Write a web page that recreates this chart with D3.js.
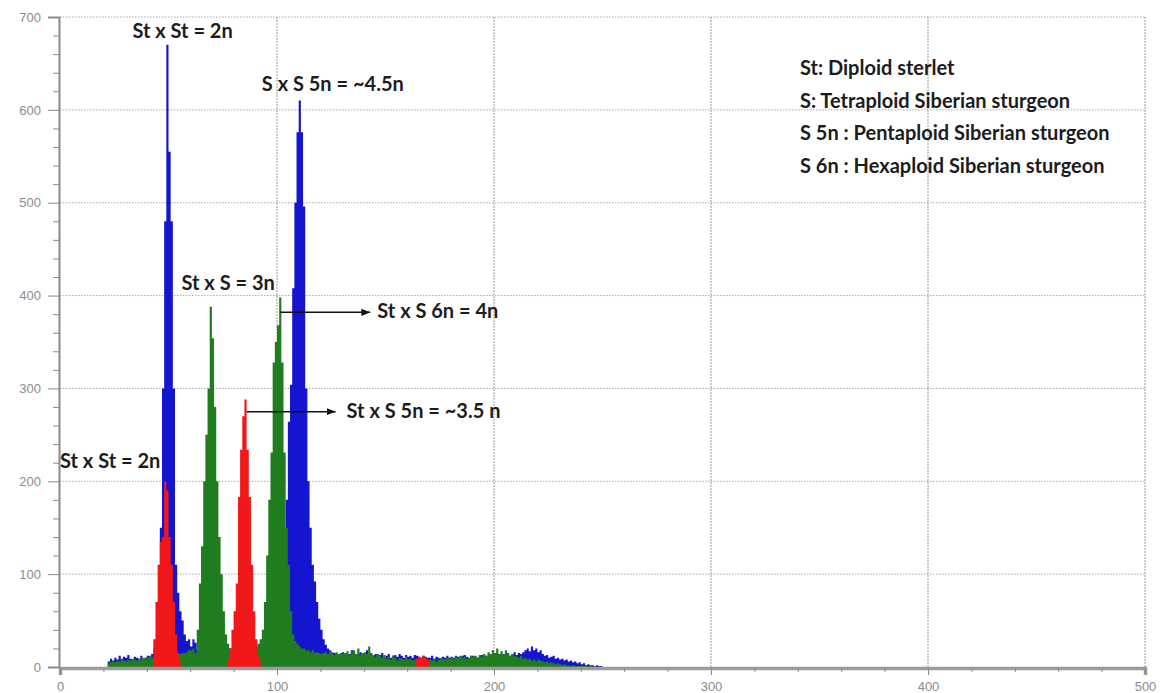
<!DOCTYPE html>
<meta charset="utf-8">
<head>
<script src="https://cdn.jsdelivr.net/npm/d3@7"></script>
<style>
  body { margin: 0; background: #fff; }
  svg { display: block; }
  .ann { font-family: Lato, "Open Sans", sans-serif; font-weight: 700; font-size: 20px; fill: #1c1c1c; }
</style>
</head>
<body>
<svg></svg>
<script>

// histogram counts per channel, channels 20..249
var firstChannel = 20;

var blueCounts = [
  0,0,6,9,7,10,8,12,9,11,
  10,13,9,8,11,10,9,12,8,10,
  12,9,14,20,30,60,150,300,480,670,
  555,480,300,110,80,60,50,35,28,30,
  22,30,26,18,15,12,12,10,10,10,
  10,10,10,10,10,12,15,18,20,20,
  18,18,15,15,15,15,15,15,18,20,
  20,20,25,30,40,50,60,70,80,90,
  90,90,95,100,180,264,304,408,500,576,
  610,576,496,300,200,150,110,92,70,52,
  40,30,24,20,18,16,15,14,12,14,
  16,13,12,14,18,15,12,14,16,12,
  14,18,12,10,12,14,11,13,15,10,
  12,14,10,12,13,11,14,12,10,13,
  11,12,10,13,12,11,10,12,11,10,
  10,12,9,11,10,9,11,10,12,10,
  11,10,12,11,10,12,13,11,10,12,
  12,11,10,12,13,11,12,10,12,11,
  12,13,11,12,14,12,13,12,14,16,
  13,15,14,16,18,20,17,22,18,20,
  16,18,14,12,13,10,11,12,9,10,
  8,9,7,8,6,7,5,6,4,5,
  3,4,2,3,2,2,1,2,1,1
];

var greenCounts = [
  0,0,4,5,6,5,7,6,8,7,
  6,8,7,9,8,7,9,8,10,9,
  10,12,10,12,10,8,8,8,8,8,
  8,8,10,10,12,14,15,15,16,18,
  18,20,15,40,90,130,200,250,300,388,
  354,280,200,140,100,60,35,25,20,18,
  20,18,16,18,16,18,20,18,20,22,
  22,25,30,40,70,120,180,231,328,350,
  368,398,328,231,150,110,60,35,28,25,
  22,20,20,18,18,16,18,15,16,15,
  14,15,16,14,17,15,13,16,14,15,
  14,15,17,13,16,18,14,20,13,15,
  16,14,22,15,13,11,14,12,10,13,
  9,11,8,12,10,7,10,9,8,11,
  8,9,7,8,6,8,7,9,8,6,
  8,7,9,6,8,10,9,8,10,9,
  10,9,11,10,12,10,11,9,10,12,
  11,12,10,13,11,14,12,16,14,18,
  15,20,14,17,13,18,15,12,14,12,
  11,10,12,9,10,8,9,7,8,6,
  8,7,6,5,6,4,5,4,3,4,
  3,2,3,2,2,1,2,1,1,1,
  1,1,1,0,1,0,1,0,0,0
];

var redCounts = [
  0,0,0,0,0,0,0,0,0,0,
  0,0,0,0,0,0,0,0,0,0,
  0,0,0,30,70,110,135,140,200,190,
  140,110,70,35,15,5,0,0,0,0,
  0,0,0,0,0,0,0,0,0,0,
  0,0,0,0,0,0,0,8,20,40,
  60,90,183,234,270,288,234,183,110,60,
  30,12,5,0,0,0,0,0,0,0,
  0,0,0,0,0,0,0,0,0,0,
  0,0,0,0,0,0,0,0,0,0,
  0,0,0,0,0,0,0,0,0,0,
  0,0,0,0,0,0,0,0,0,0,
  0,0,0,0,0,0,0,0,0,0,
  0,0,0,0,0,0,0,0,0,0,
  0,0,0,0,9,11,10,12,10,8,
  0,0,0,0,0,0,0,0,0,0,
  0,0,0,0,0,0,0,0,0,0,
  0,0,0,0,0,0,0,0,0,0,
  0,0,0,0,0,0,0,0,0,0,
  0,0,0,0,0,0,0,0,0,0,
  0,0,0,0,0,0,0,0,0,0,
  0,0,0,0,0,0,0,0,0,0,
  0,0,0,0,0,0,0,0,0,0
];

var xTicks = [0, 100, 200, 300, 400, 500];
var yTicks = [0, 100, 200, 300, 400, 500, 600, 700];

var peakLabels = [
  {text: "St x St = 2n", ch: 56.5, n: 668, anchor: "middle", dy: -9},
  {text: "S x S 5n = ~4.5n", ch: 93, n: 620, anchor: "start", dy: 0},
  {text: "St x S = 3n", ch: 77.5, n: 406, anchor: "middle", dy: 0},
  {text: "St x St = 2n", ch: 0, n: 214, anchor: "start", dy: 0}
];
var arrowLabels = [
  {text: "St x S 6n = 4n", from: 101.5, to: 143, n: 382, gap: 7},
  {text: "St x S 5n = ~3.5 n", from: 86, to: 127, n: 275, gap: 11}
];
var legendLines = [
  "St: Diploid sterlet",
  "S: Tetraploid Siberian sturgeon",
  "S 5n : Pentaploid Siberian sturgeon",
  "S 6n : Hexaploid Siberian sturgeon"
];

var width = 1161, height = 693;

var x = d3.scaleLinear().domain([0, 500]).range([60, 1145]);
var y = d3.scaleLinear().domain([0, 700]).range([667, 17]);

var svg = d3.select("svg").attr("width", width).attr("height", height);

// grid
var grid = svg.append("g");
grid.selectAll(".hg").data(yTicks.filter(function(d) { return d > 0; }))
  .enter().append("line")
  .attr("x1", x(0)).attr("x2", x(500))
  .attr("y1", function(d) { return y(d); }).attr("y2", function(d) { return y(d); })
  .style("stroke", "#a8a8a8").style("stroke-dasharray", "1.5,1.5");
grid.selectAll(".vg").data(xTicks.filter(function(d) { return d > 0; }))
  .enter().append("line")
  .attr("y1", y(0)).attr("y2", y(700))
  .attr("x1", function(d) { return x(d); }).attr("x2", function(d) { return x(d); })
  .style("stroke", "#9a9a9a").style("stroke-dasharray", "2,1");

// histograms: blue first, then green, then red on top
var series = [
  {counts: blueCounts, color: "#1515d0"},
  {counts: greenCounts, color: "#1f7d1f"},
  {counts: redCounts, color: "#f01818"}
];

var area = d3.area()
  .curve(d3.curveStepAfter)
  .x(function(d) { return x(d[0]); })
  .y0(y(0))
  .y1(function(d) { return y(d[1]); });

series.forEach(function(s) {
  var pts = s.counts.map(function(c, i) { return [firstChannel + i, c]; });
  pts.push([firstChannel + s.counts.length, 0]);
  svg.append("path")
    .datum(pts)
    .attr("d", area)
    .style("fill", s.color);
});

// axes
var xAxis = svg.append("g")
  .attr("transform", "translate(0," + (y(0) + 1) + ")")
  .call(d3.axisBottom(x).tickValues(xTicks).tickSize(7).tickPadding(7));
xAxis.select(".domain").style("stroke", "#9c9c9c").style("stroke-width", 3.5);
xAxis.selectAll(".tick line").style("stroke", "#8a8a8a");

svg.append("g")
  .attr("transform", "translate(0," + (y(0) + 1) + ")")
  .call(d3.axisBottom(x).tickValues(d3.range(20, 500, 20).filter(function(d) { return d % 100; }))
    .tickSize(4).tickFormat(""))
  .call(function(g) { g.select(".domain").remove(); })
  .selectAll("line").style("stroke", "#8a8a8a");

var yAxis = svg.append("g")
  .attr("transform", "translate(" + (x(0) - 1) + ",0)")
  .call(d3.axisLeft(y).tickValues(yTicks).tickSize(11).tickPadding(7));
yAxis.select(".domain").style("stroke", "#8a8a8a").style("stroke-width", 2);
yAxis.selectAll(".tick line").style("stroke", "#8a8a8a");

svg.append("g")
  .attr("transform", "translate(" + (x(0) - 1) + ",0)")
  .call(d3.axisLeft(y).tickValues(d3.range(20, 700, 20).filter(function(d) { return d % 100; }))
    .tickSize(6).tickFormat(""))
  .call(function(g) { g.select(".domain").remove(); })
  .selectAll("line").style("stroke", "#8a8a8a");

// tick label look
[xAxis, yAxis].forEach(function(a) {
  a.selectAll(".tick text")
    .style("font-family", "'Liberation Sans', Arial, sans-serif")
    .style("font-size", "13px")
    .style("fill", "#8c8c8c");
});

// peak labels
svg.selectAll(".peak").data(peakLabels).enter().append("text")
  .attr("class", "ann")
  .attr("x", function(d) { return x(d.ch); })
  .attr("y", function(d) { return y(d.n) + d.dy; })
  .attr("text-anchor", function(d) { return d.anchor; })
  .text(function(d) { return d.text; });

// arrows
svg.append("defs").append("marker")
  .attr("id", "head")
  .attr("viewBox", "0 0 10 10")
  .attr("refX", 10).attr("refY", 5)
  .attr("markerWidth", 6).attr("markerHeight", 6)
  .attr("orient", "auto")
  .append("path").attr("d", "M0,1L10,5L0,9Z").style("fill", "#111");

arrowLabels.forEach(function(a) {
  svg.append("line")
    .attr("x1", x(a.from)).attr("x2", x(a.to))
    .attr("y1", y(a.n)).attr("y2", y(a.n))
    .style("stroke", "#111").style("stroke-width", 1.5)
    .attr("marker-end", "url(#head)");
  svg.append("text").attr("class", "ann")
    .attr("x", x(a.to) + a.gap)
    .attr("y", y(a.n) + 6)
    .text(a.text);
});

// legend
svg.selectAll(".leg").data(legendLines).enter().append("text")
  .attr("class", "ann")
  .attr("x", 800)
  .attr("y", function(d, i) { return 75 + i * 32.7; })
  .text(function(d) { return d; });

</script>
</body>
</html>
